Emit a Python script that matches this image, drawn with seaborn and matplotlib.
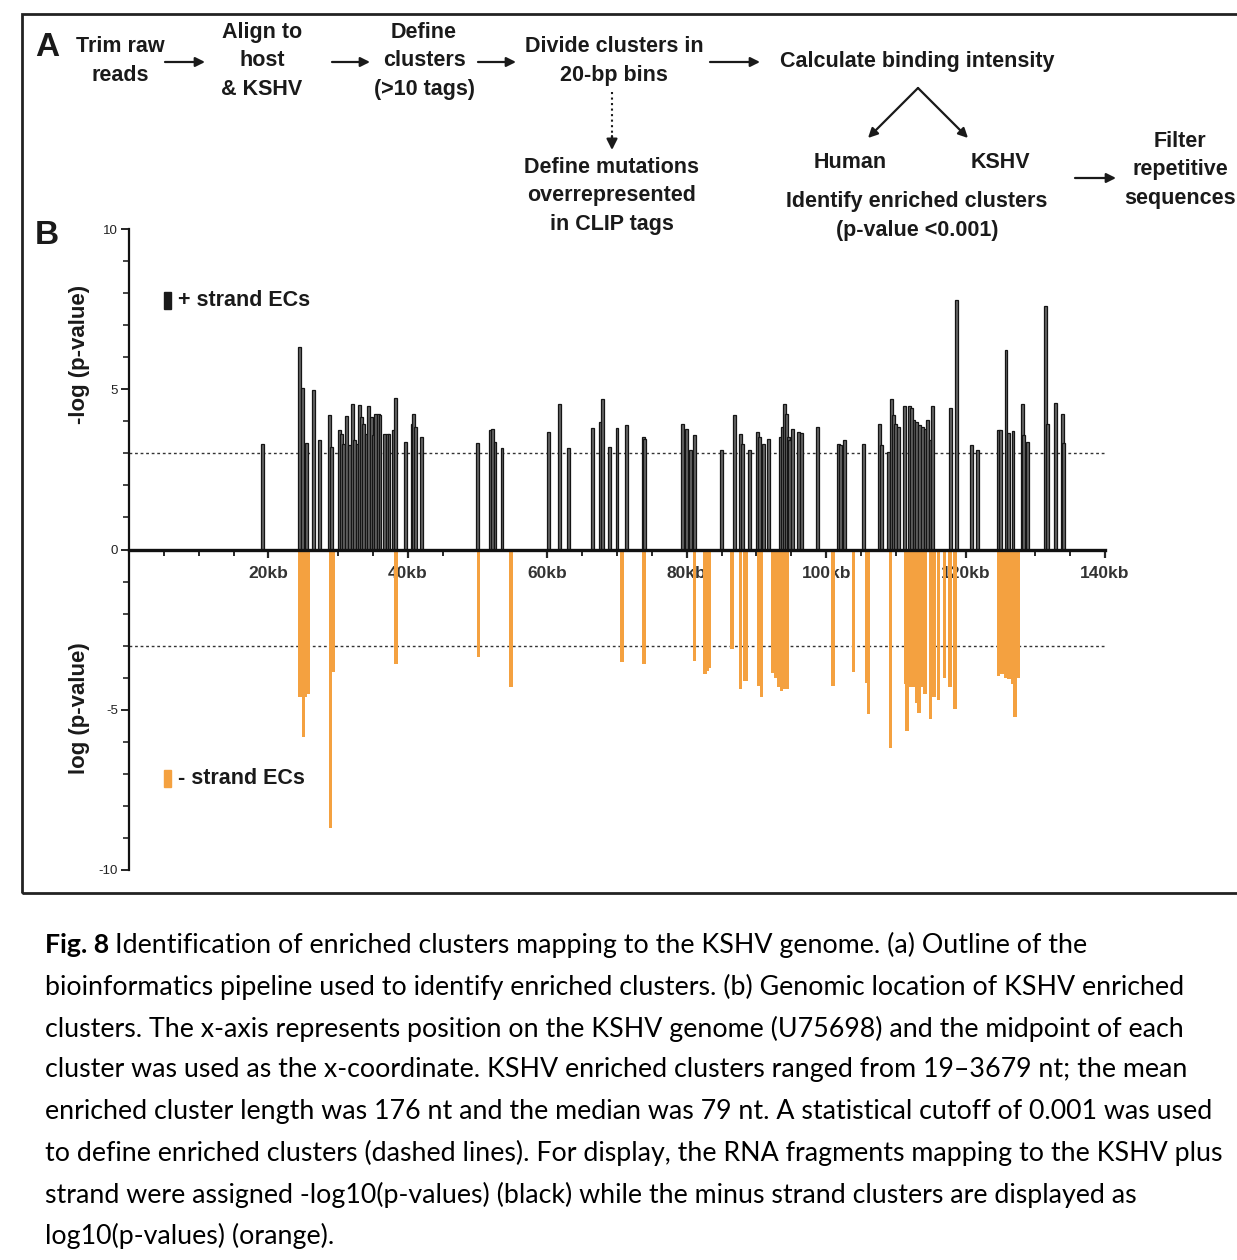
import matplotlib
matplotlib.use("Agg")
import matplotlib.pyplot as plt
import seaborn as sns
import numpy as np
import pandas as pd
from matplotlib.patches import FancyArrowPatch, Rectangle
from matplotlib.lines import Line2D

# enriched cluster midpoints (kb) and -log10 p for the plus strand
plus_pos = [19.2, 24.4, 24.9, 25.5, 26.4, 27.3, 28.8, 29.1, 30.2, 30.5, 30.8, 31.2, 31.6,
            32.0, 32.4, 32.8, 33.1, 33.4, 33.7, 34.1, 34.4, 34.8, 35.0, 35.4, 35.8, 36.0,
            36.7, 37.1, 37.3, 37.9, 38.2, 39.6, 40.6, 40.8, 41.1, 41.9,
            50.0, 51.9, 52.2, 52.5, 53.5, 60.2, 61.7, 63.0, 66.5, 67.6, 67.9, 68.9, 70.0,
            71.3, 73.8, 74.0, 79.4, 80.0, 80.5, 81.1,
            85.0, 86.8, 87.7, 88.0, 89.0, 90.2, 90.5, 91.0, 91.7, 93.4, 93.7, 94.0, 94.3,
            94.6, 94.8, 95.2, 96.0, 96.5, 98.8, 101.8, 102.1, 102.6, 105.3, 107.7, 108.0,
            109.0, 109.4, 109.7, 110.0, 110.4, 111.2, 112.0, 112.2, 112.6, 113.0, 113.4,
            113.8, 114.2, 114.5, 114.9, 115.2, 117.9, 118.7,
            120.9, 121.7, 124.7, 125.0, 125.8, 126.2, 126.8, 128.1, 128.3, 128.9, 131.4,
            131.8, 132.9, 133.9, 134.1]
plus_val = [3.28, 6.32, 5.04, 3.32, 4.99, 3.43, 4.19, 3.20, 3.72, 3.61, 3.30, 4.16, 3.25,
            4.53, 3.41, 3.30, 4.50, 4.14, 3.93, 3.61, 4.47, 4.14, 3.56, 4.24, 4.24, 4.19,
            3.61, 3.59, 3.59, 3.74, 4.74, 3.35, 3.93, 4.24, 3.82, 3.51,
            3.32, 3.74, 3.77, 3.35, 3.18, 3.67, 4.55, 3.17, 3.80, 3.98, 4.71, 3.20, 3.80,
            3.88, 3.51, 3.46, 3.93, 3.77, 3.09, 3.56,
            3.09, 4.19, 3.59, 3.30, 3.11, 3.67, 3.51, 3.30, 3.46, 3.51, 3.82, 4.53, 4.24,
            3.51, 3.43, 3.77, 3.67, 3.64, 3.82, 3.30, 3.25, 3.43, 3.28, 3.91, 3.25,
            3.04, 4.71, 4.19, 3.93, 3.82, 4.47, 4.47, 4.40, 4.03, 3.98, 3.88,
            3.82, 3.77, 4.03, 3.41, 4.47, 4.40, 7.80,
            3.25, 3.09, 3.74, 3.72, 6.22, 3.64, 3.70, 4.53, 3.56, 3.35, 7.59,
            3.93, 4.57, 4.24, 3.32]

# minus strand clusters, shown as log10 p
minus_pos = [24.5, 24.8, 25.0, 25.3, 25.7, 28.9, 29.3, 38.3, 50.1, 54.8, 70.7, 73.9, 81.1,
             82.6, 83.0, 83.3, 86.5, 87.7, 88.3, 88.6, 90.4, 90.7, 92.3, 92.7, 93.2, 93.6,
             94.0, 94.4, 101.0, 103.9, 105.8, 106.1, 109.2, 111.4, 111.6, 112.0, 112.5,
             113.0, 113.3, 113.7, 114.2, 115.0, 115.5, 116.1, 117.0, 117.8, 118.5,
             124.7, 125.2, 125.7, 126.2, 126.8, 127.1, 127.5]
minus_val = [-4.6, -4.6, -5.86, -4.6, -4.5, -8.68, -3.83, -3.57, -3.36, -4.30, -3.52, -3.57, -3.47,
             -3.89, -3.80, -3.70, -3.10, -4.35, -4.10, -4.10, -4.25, -4.60, -3.85, -4.00, -4.30, -4.40,
             -4.35, -4.35, -4.25, -3.83, -4.15, -5.14, -6.18, -4.20, -5.66, -4.30, -4.30,
             -4.80, -5.10, -4.30, -4.50, -5.30, -4.60, -4.70, -4.00, -4.30, -4.98,
             -3.94, -3.90, -4.00, -4.05, -4.20, -5.24, -4.00]

cutoff = 3
x_ticks = [20, 40, 60, 80, 100, 120, 140]
x_tick_labels = ["20kb", "40kb", "60kb", "80kb", "100kb", "120kb", "140kb"]
y_ticks = [-10, -5, 0, 5, 10]

caption_lines = [
    "bioinformatics pipeline used to identify enriched clusters. (b) Genomic location of KSHV enriched",
    "clusters. The x-axis represents position on the KSHV genome (U75698) and the midpoint of each",
    "cluster was used as the x-coordinate. KSHV enriched clusters ranged from 19\u20133679 nt; the mean",
    "enriched cluster length was 176 nt and the median was 79 nt. A statistical cutoff of 0.001 was used",
    "to define enriched clusters (dashed lines). For display, the RNA fragments mapping to the KSHV plus",
    "strand were assigned -log10(p-values) (black) while the minus strand clusters are displayed as",
    "log10(p-values) (orange).",
]

sns.set_style("white")
plt.rcParams['font.family'] = ['Liberation Sans', 'DejaVu Sans']

W, H = 1237, 1260
fig = plt.figure(figsize=(W / 100, H / 100), dpi=100)


def px(x, y):
    return x / W, 1 - y / H


def ftext(x, y, s, **kw):
    kw.setdefault('ha', 'center')
    kw.setdefault('va', 'center')
    kw.setdefault('fontsize', 15.5)
    kw.setdefault('fontweight', 'bold')
    kw.setdefault('linespacing', 1.45)
    kw.setdefault('color', '#1a1a1a')
    return fig.text(*px(x, y), s, **kw)


def farrow(x0, y0, x1, y1, **kw):
    kw.setdefault('arrowstyle', '-|>')
    kw.setdefault('mutation_scale', 14)
    kw.setdefault('lw', 1.6)
    kw.setdefault('color', '#1a1a1a')
    fig.add_artist(FancyArrowPatch(px(x0, y0), px(x1, y1), transform=fig.transFigure,
                                   shrinkA=0, shrinkB=0, **kw))


# border of the figure panel
x0, y0 = px(22, 893)
fig.add_artist(Rectangle((x0, y0), (1250 - 22) / W, (893 - 14) / H, transform=fig.transFigure,
                         fill=False, lw=2, ec='#222222'))

# panel A: pipeline
ftext(47, 48, "A", fontsize=24)
ftext(120, 61, "Trim raw\nreads")
farrow(165, 62, 205, 62)
ftext(262, 61, "Align to\nhost\n& KSHV")
farrow(332, 62, 370, 62)
ftext(424, 61, "Define\nclusters\n(>10 tags)")
farrow(478, 62, 516, 62)
ftext(614, 61, "Divide clusters in\n20-bp bins")
fig.add_artist(Line2D([612 / W, 612 / W], [1 - 92 / H, 1 - 140 / H], transform=fig.transFigure,
                      ls=':', lw=1.5, color='#1a1a1a'))
farrow(612, 136, 612, 150, mutation_scale=16)
ftext(612, 196, "Define mutations\noverrepresented\nin CLIP tags")
farrow(710, 62, 760, 62)
ftext(917, 62, "Calculate binding intensity")
farrow(918, 88, 868, 138)
farrow(918, 88, 968, 138)
ftext(850, 162, "Human")
ftext(1000, 162, "KSHV")
ftext(917, 216, "Identify enriched clusters\n(p-value <0.001)")
farrow(1075, 178, 1116, 178)
ftext(1180, 170, "Filter\nrepetitive\nsequences")

# panel B
ftext(47, 235, "B", fontsize=24)
ax = fig.add_axes([129 / W, 1 - 870 / H, 976 / W, 641 / H])
ax.set_facecolor('none')

ax.bar(plus_pos, plus_val, width=0.42, color='#666666', edgecolor='#151515', linewidth=0.9,
       zorder=3)
ax.bar(minus_pos, minus_val, width=0.5, color='#f4a140', edgecolor='none', zorder=3)
ax.plot([0, 140], [cutoff, cutoff], ls=(0, (2, 2)), lw=1.0, color='#333333', zorder=2)
ax.plot([0, 140], [-cutoff, -cutoff], ls=(0, (2, 2)), lw=1.0, color='#333333', zorder=2)

ax.set_xlim(0, 140)
ax.set_ylim(-10, 10)
for s in ['top', 'right']:
    ax.spines[s].set_visible(False)
ax.spines['bottom'].set_position(('data', 0))
ax.spines['bottom'].set_linewidth(2.4)
ax.spines['bottom'].set_zorder(4)
ax.spines['left'].set_linewidth(1.6)
ax.spines['bottom'].set_color('#111111')
ax.spines['left'].set_color('#111111')

ax.set_xticks(x_ticks)
ax.set_xticklabels(x_tick_labels, fontsize=12.5, fontweight='bold', color='#333333')
ax.set_xticks(np.arange(5, 140, 5), minor=True)
ax.set_yticks(y_ticks)
ax.set_yticklabels([str(v) for v in y_ticks], fontsize=9.5, color='#222222')
ax.set_yticks(np.arange(-10, 11, 1), minor=True)
ax.tick_params(axis='x', which='major', direction='out', length=6, width=1.6, pad=6, bottom=True)
ax.tick_params(axis='x', which='minor', direction='out', length=4, width=1.4, bottom=True)
ax.tick_params(axis='y', which='major', direction='out', length=6, width=1.4, pad=2, left=True)
ax.tick_params(axis='y', which='minor', direction='out', length=4, width=1.2, left=True)

ftext(80, 354, "-log (p-value)", rotation=90, fontsize=16)
ftext(80, 708, "log (p-value)", rotation=90, fontsize=16)

fig.add_artist(Rectangle(px(164, 309), 7 / W, 17 / H, transform=fig.transFigure,
                         color='#1a1a1a'))
ftext(178, 301, "+ strand ECs", ha='left', fontsize=15.5)
fig.add_artist(Rectangle(px(164, 787), 7 / W, 17 / H, transform=fig.transFigure,
                         color='#f4a140'))
ftext(178, 779, "- strand ECs", ha='left', fontsize=15.5)

# caption
cap_font = ['Lato', 'DejaVu Sans']
cap_size = 19.3
lab = ftext(45, 945, "Fig. 8", ha='left', fontsize=cap_size, family=cap_font, color='black')
renderer = fig.canvas.get_renderer()
lab_end = lab.get_window_extent(renderer).x1
ftext(lab_end + 6, 945, "Identification of enriched clusters mapping to the KSHV genome. (a) Outline of the",
      ha='left', fontsize=cap_size, fontweight='normal', family=cap_font, color='black')
for i, line in enumerate(caption_lines):
    ftext(45, 987 + i * 41.5, line, ha='left', fontsize=cap_size, fontweight='normal',
          family=cap_font, color='black')

fig.savefig("out.png", dpi=100)
